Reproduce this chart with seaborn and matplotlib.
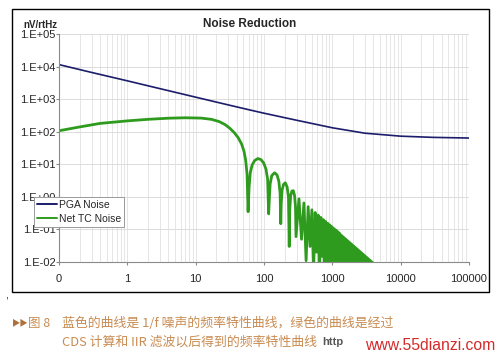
import pandas as pd
import matplotlib.pyplot as plt
from matplotlib.patches import Rectangle
import seaborn as sns
import numpy as np

# PGA noise (blue), nV/rtHz
pga_freq = [0.1, 0.3, 1, 3, 10, 30, 65, 100, 300, 1000, 3000, 10000, 30000, 100000]
pga_val = [11500, 6600, 3650, 2100, 1150, 665, 455, 370, 225, 132, 90, 73, 67, 64]

# Net TC noise (green): smooth part, first lobes, then the dense lobes
tc_freq = [0.1, 0.2, 0.4, 1, 2, 4, 7, 12, 17, 22, 27, 32, 37, 42, 47, 51, 54, 56.5, 58.5,
           60.5, 63, 67, 73, 81, 90, 99, 107, 113, 117,
           119.5, 123, 130, 143, 155, 165, 172, 176,
           178.5, 184, 193, 205, 218, 228, 234,
           238, 246, 256, 268, 280, 289, 294,
           325, 354, 384, 413, 443, 472, 502, 531, 561, 590, 620, 649, 679, 708,
           738, 767, 797, 826, 856, 885, 915, 944, 974, 1003, 1033, 1062, 1092,
           1121, 1151, 1180, 1210, 1239, 1269, 1298]
tc_val = [107, 140, 180, 215, 240, 260, 268, 262, 240, 205, 165, 125, 92, 65, 42, 25, 13, 5, 0.35,
          2, 5.5, 9.5, 13, 15, 14, 11, 7, 3.5, 0.3,
          0.8, 2.5, 4.5, 5.5, 4.7, 3, 1.3, 0.15,
          0.6, 1.6, 2.4, 2.7, 2.0, 1.0, 0.03,
          0.4, 1.1, 1.5, 1.55, 1.1, 0.5, 0.06,
          0.87, 0.05, 0.65, 0.011, 0.50, 0.03, 0.40, 0.005, 0.33, 0.02, 0.275, 0.004, 0.234, 0.015,
          0.20, 0.004, 0.176, 0.008, 0.155, 0.003, 0.138, 0.006, 0.123, 0.003, 0.111, 0.005, 0.100,
          0.003, 0.092, 0.004, 0.084, 0.003, 0.077, 0.003]

# beyond ~1300 Hz the lobes merge into a solid wedge
tc_fill_freq = [1269, 4000]
tc_fill_top = [0.077, 0.0095]

x_ticks = [0.1, 1, 10, 100, 1000, 10000, 100000]
x_tick_labels = ['0', '1', '10', '100', '1000', '10000', '100000']
y_ticks = [1e-2, 1e-1, 1e0, 1e1, 1e2, 1e3, 1e4, 1e5]
y_tick_labels = ['1.E-02', '1.E-01', '1.E+00', '1.E+01', '1.E+02', '1.E+03', '1.E+04', '1.E+05']

blue = '#1c1d6b'
green = '#2f9b1e'
caption_col = '#c98c52'

sns.set_style('white')
plt.rcParams['font.family'] = ['Liberation Sans', 'DejaVu Sans']

fig = plt.figure(figsize=(5, 3.57), dpi=100)
W, H = 500, 357
ax = fig.add_axes([59 / W, 1 - 262 / H, (469 - 59) / W, (262 - 34) / H])

df_pga = pd.DataFrame({'freq': pga_freq, 'noise': pga_val})
df_tc = pd.DataFrame({'freq': tc_freq, 'noise': tc_val})

sns.lineplot(data=df_pga, x='freq', y='noise', ax=ax, color=blue, lw=1.2,
             label='PGA Noise', estimator=None, sort=False)
sns.lineplot(data=df_tc, x='freq', y='noise', ax=ax, color=green, lw=2.0,
             label='Net TC Noise', estimator=None, sort=False)
ax.fill_between(tc_fill_freq, tc_fill_top, 1e-3, color=green, lw=1.3)

ax.set_xscale('log')
ax.set_yscale('log')
ax.set_xlim(0.1, 100000)
ax.set_ylim(1e-2, 1e5)
ax.set_xticks(x_ticks, x_tick_labels)
ax.set_yticks(y_ticks, y_tick_labels)
ax.yaxis.set_minor_locator(plt.NullLocator())
ax.xaxis.set_minor_locator(plt.LogLocator(base=10, subs=np.arange(2, 10)))
ax.set_xlabel('')
ax.set_ylabel('')

ax.grid(True, axis='y', which='major', color='#dcdcdc', lw=0.7)
ax.grid(True, axis='x', which='both', color='#e2e2e2', lw=0.6)
ax.set_axisbelow(True)

for s in ['top', 'right']:
    ax.spines[s].set_visible(False)
for s in ['left', 'bottom']:
    ax.spines[s].set_color('#8a8a8a')
    ax.spines[s].set_linewidth(0.8)

ax.tick_params(axis='y', which='major', direction='out', length=2, pad=0.5,
               color='#8a8a8a', labelsize=8, left=True)
ax.tick_params(axis='x', which='major', direction='out', length=2.5, pad=6.5,
               color='#8a8a8a', labelsize=8, bottom=True)
ax.tick_params(axis='x', which='minor', length=0)

leg = ax.legend(loc='upper left', bbox_to_anchor=(34 / W, 1 - 197 / H),
                bbox_transform=fig.transFigure, fontsize=7.5, frameon=True,
                fancybox=False, framealpha=1, edgecolor='#9a9a9a',
                handlelength=1.9, handletextpad=0.2, labelspacing=0.35,
                borderpad=0.3, borderaxespad=0)
leg.get_frame().set_linewidth(0.7)
for line in leg.get_lines():
    line.set_linewidth(1.4)

fig.text(250 / W, 1 - 24 / H, 'Noise Reduction', ha='center', va='center',
         fontsize=8.5, fontweight='bold')
fig.text(40 / W, 1 - 25 / H, 'nV/rtHz', ha='center', va='center',
         fontsize=7, fontweight='bold')

# outer chart frame
fig.patches.append(Rectangle((12 / W, 1 - 292 / H), 477 / W, 283 / H, fill=False,
                             edgecolor='black', lw=1.0, transform=fig.transFigure))

fig.text(5 / W, 1 - 296 / H, ',', fontsize=8, va='center')

cjk = ['Noto Sans CJK SC', 'DejaVu Sans']
fig.text(12 / W, 1 - 323 / H, '▶▶', family=cjk, fontsize=6, color='#b0703c', va='center')
fig.text(28 / W, 1 - 323 / H, '图 8', family=cjk, fontsize=9, color=caption_col, va='center')
fig.text(62 / W, 1 - 323 / H, '蓝色的曲线是 1/f 噪声的频率特性曲线，绿色的曲线是经过',
         family=cjk, fontsize=9.3, color=caption_col, va='center')
fig.text(62 / W, 1 - 342 / H, 'CDS 计算和 IIR 滤波以后得到的频率特性曲线',
         family=cjk, fontsize=9.3, color=caption_col, va='center')
fig.text(322 / W, 1 - 342 / H, 'http', fontsize=8, color='#555555',
         fontweight='bold', va='center')
fig.text(365 / W, 1 - 345 / H, 'www.55dianzi.com', fontsize=11.3, color='#d42a2a',
         va='center')

fig.savefig('out.png', dpi=100)
